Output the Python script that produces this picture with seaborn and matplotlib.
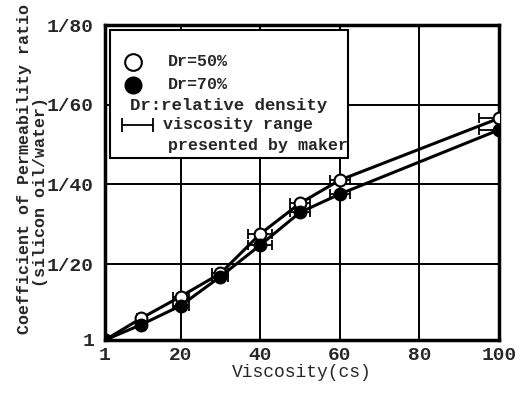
import matplotlib
matplotlib.use("Agg")
import matplotlib.pyplot as plt
import pandas as pd
import seaborn as sns
from matplotlib.patches import Rectangle

# viscosity (cs) and denominator n of the permeability ratio 1/n
VISCOSITY = [1, 10, 20, 30, 40, 50, 60, 100]
DR50 = [1.0, 6.4, 11.9, 17.7, 27.6, 35.3, 41.1, 56.6]
DR70 = [1.0, 4.8, 9.6, 16.9, 24.8, 33.0, 37.6, 53.7]
# half width of the viscosity range given by the maker
VISC_RANGE = [0, 1, 2, 2, 3, 2.5, 2.5, 5]

X_TICKS = [1, 20, 40, 60, 80, 100]
Y_TICKS = [1, 20, 40, 60, 80]
Y_TICK_LABELS = ["1", "1/20", "1/40", "1/60", "1/80"]

sns.set_style("white")
plt.rcParams['font.family'] = ['Liberation Mono', 'DejaVu Sans Mono']
plt.rcParams['font.weight'] = 'bold'

df = pd.DataFrame({"Viscosity": VISCOSITY, "Dr=50%": DR50, "Dr=70%": DR70, "range": VISC_RANGE})

fig = plt.figure(figsize=(5.25, 4.0), dpi=100)
ax = fig.add_axes([105 / 525, 60 / 400, 394 / 525, 315 / 400])

# grid
for v in [20, 40, 60, 80]:
    ax.axvline(v, color='black', lw=1.4, zorder=0)
for v in [20, 40, 60]:
    ax.axhline(v, color='black', lw=1.4, zorder=0)

# error bars (viscosity range)
for col in ["Dr=50%", "Dr=70%"]:
    ax.errorbar(df["Viscosity"], df[col], xerr=df["range"], fmt='none',
                ecolor='black', elinewidth=1.3, capsize=3.5, capthick=1.3, zorder=2)

sns.lineplot(data=df, x="Viscosity", y="Dr=50%", ax=ax, color='black', lw=2.2,
             marker='o', markersize=8.5, markerfacecolor='white', markeredgecolor='black',
             markeredgewidth=1.5, zorder=3)
sns.lineplot(data=df, x="Viscosity", y="Dr=70%", ax=ax, color='black', lw=2.2,
             marker='o', markersize=8.5, markerfacecolor='black', markeredgecolor='black',
             markeredgewidth=1.5, zorder=4)

ax.set_xlim(1, 100)
ax.set_ylim(1, 80)
ax.set_xticks(X_TICKS)
ax.set_xticklabels([str(t) for t in X_TICKS])
ax.set_yticks(Y_TICKS)
ax.set_yticklabels(Y_TICK_LABELS)
ax.tick_params(length=0, labelsize=14, pad=8)
ax.tick_params(axis='x', pad=5)
for sp in ax.spines.values():
    sp.set_visible(True)
    sp.set_color('black')
    sp.set_linewidth(2.5)

ax.set_xlabel("Viscosity(cs)", fontsize=13, labelpad=0)
ax.set_ylabel("")
fig.text(25 / 525, 1 - 169 / 400, "Coefficient of Permeability ratio", rotation=90,
         ha='center', va='center', fontsize=12)
fig.text(41 / 525, 1 - 192 / 400, "(silicon oil/water)", rotation=90,
         ha='center', va='center', fontsize=12)

# legend box
tr = ax.transAxes
ax.add_patch(Rectangle((0.0127, 0.578), 0.604, 0.406, transform=tr, facecolor='white',
                       edgecolor='black', lw=1.5, zorder=5))
ax.plot([0.071], [0.883], 'o', transform=tr, ms=12, mfc='white', mec='black', mew=1.5, zorder=6)
ax.plot([0.071], [0.810], 'o', transform=tr, ms=12, mfc='black', mec='black', zorder=6)
ax.text(0.160, 0.883, "Dr=50%", transform=tr, va='center', ha='left', fontsize=12, zorder=6)
ax.text(0.160, 0.810, "Dr=70%", transform=tr, va='center', ha='left', fontsize=12, zorder=6)
ax.text(0.0635, 0.746, "Dr:relative density", transform=tr, va='center', ha='left', fontsize=12.5, zorder=6)
ax.errorbar([0.0825], [0.683], xerr=[0.04], transform=tr, fmt='none', ecolor='black',
            elinewidth=1.3, capsize=5, capthick=1.3, zorder=6)
ax.text(0.147, 0.683, "viscosity range", transform=tr, va='center', ha='left', fontsize=12, zorder=6)
ax.text(0.160, 0.616, "presented by maker", transform=tr, va='center', ha='left', fontsize=12, zorder=6)

fig.savefig("out.png", dpi=100)
